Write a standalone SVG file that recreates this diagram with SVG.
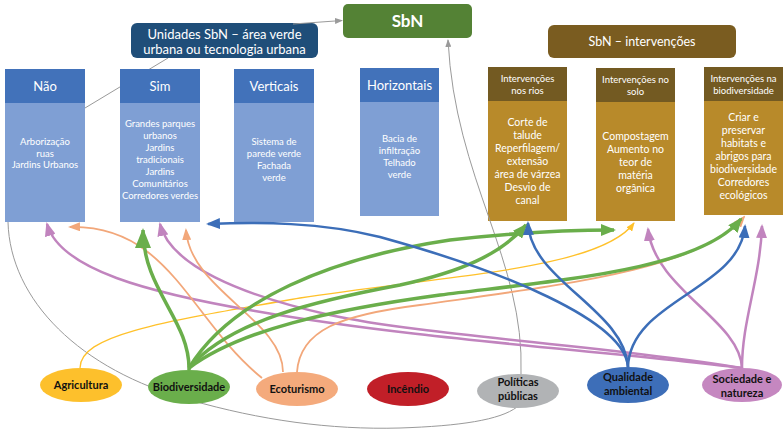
<svg xmlns="http://www.w3.org/2000/svg" width="783" height="430" viewBox="0 0 783 430">
<defs>
<style>
text{font-family:Lato,"Liberation Sans",sans-serif;text-anchor:middle}
.hd{fill:#fff;font-size:13px}
.bt{fill:#fff;font-size:9.5px}
.ih{fill:#fff;font-size:9.5px}
.ib{fill:#fff;font-size:10.5px}
.el{fill:#111;font-size:11px;font-weight:bold}
.bh{fill:#4272BA}
.bb{fill:#7F9FD4}
.gh{fill:#735A22}
.gb{fill:#B88A2A}
.c{fill:none}
.g{stroke:#6AAE4B;stroke-width:3.5}
.b{stroke:#3C6EB8;stroke-width:2.5}
.p{stroke:#C184BE;stroke-width:2.5}
.o{stroke:#F2A77A;stroke-width:1.8}
.y{stroke:#FFC12A;stroke-width:1.3}
.gr{stroke:#9A9A9A;stroke-width:1}
</style>
<marker id="mgB" markerUnits="userSpaceOnUse" markerWidth="20" markerHeight="16" refX="18" refY="8" orient="auto"><path d="M0,0 L20,8 L0,16 z" fill="#6AAE4B"/></marker>
<marker id="mg" markerUnits="userSpaceOnUse" markerWidth="15" markerHeight="12" refX="13" refY="6" orient="auto"><path d="M0,0 L15,6 L0,12 z" fill="#6AAE4B"/></marker>
<marker id="mb" markerUnits="userSpaceOnUse" markerWidth="14" markerHeight="11" refX="12" refY="5.5" orient="auto"><path d="M0,0 L14,5.5 L0,11 z" fill="#3C6EB8"/></marker>
<marker id="mp" markerUnits="userSpaceOnUse" markerWidth="14" markerHeight="11" refX="12" refY="5.5" orient="auto"><path d="M0,0 L14,5.5 L0,11 z" fill="#C184BE"/></marker>
<marker id="mo" markerUnits="userSpaceOnUse" markerWidth="12" markerHeight="9" refX="10" refY="4.5" orient="auto"><path d="M0,0 L12,4.5 L0,9 z" fill="#F2A77A"/></marker>
<marker id="my" markerUnits="userSpaceOnUse" markerWidth="9" markerHeight="7" refX="8" refY="3.5" orient="auto"><path d="M0,0 L9,3.5 L0,7 z" fill="#FFC12A"/></marker>
<marker id="mgr" markerUnits="userSpaceOnUse" markerWidth="8" markerHeight="6" refX="7" refY="3" orient="auto"><path d="M0,0 L8,3 L0,6 z" fill="#9A9A9A"/></marker>
</defs>
<rect width="783" height="430" fill="#fff"/>

<g id="connectors-back">
<path class="c gr" d="M85,108 L168,58"/>
<path class="c gr" d="M8,222 C10,300 80,370 190,400 C260,420 330,430 400,428 C460,426 500,420 517,407"/>
</g>

<g id="sbn"><rect x="343" y="4" width="129" height="34" rx="5" fill="#548235"/><text x="407.5" y="27" fill="#fff" font-size="17" font-weight="bold">SbN</text></g>
<g id="unidades"><rect x="131" y="23" width="187" height="35" rx="6" fill="#1F4E79"/><text class="hd" x="224.5" y="38.5">Unidades SbN – área verde</text><text class="hd" x="224.5" y="53.5">urbana ou tecnologia urbana</text></g>
<g id="intervencoes"><rect x="548" y="25" width="188" height="33" rx="6" fill="#7A5C20"/><text x="642" y="46" fill="#fff" font-size="12.5">SbN – intervenções</text></g>

<g id="nao"><rect class="bb" x="5" y="103" width="80" height="119"/><rect class="bh" x="5" y="69" width="80" height="34"/><text class="hd" x="45" y="91">Não</text>
<text class="bt" x="45" y="145">Arborização</text><text class="bt" x="45" y="157">ruas</text><text class="bt" x="45" y="168">Jardins Urbanos</text></g>
<g id="sim"><rect class="bb" x="120" y="103" width="80" height="119"/><rect class="bh" x="120" y="69" width="80" height="34"/><text class="hd" x="160" y="91">Sim</text>
<text class="bt" x="160" y="127">Grandes parques</text><text class="bt" x="160" y="139">urbanos</text><text class="bt" x="160" y="151">Jardins</text><text class="bt" x="160" y="163">tradicionais</text><text class="bt" x="160" y="175">Jardins</text><text class="bt" x="160" y="187">Comunitários</text><text class="bt" x="160" y="199">Corredores verdes</text></g>
<g id="verticais"><rect class="bb" x="234" y="103" width="80" height="119"/><rect class="bh" x="234" y="69" width="80" height="34"/><text class="hd" x="274" y="91">Verticais</text>
<text class="bt" x="274" y="145">Sistema de</text><text class="bt" x="274" y="157">parede verde</text><text class="bt" x="274" y="169">Fachada</text><text class="bt" x="274" y="181">verde</text></g>
<g id="horizontais"><rect class="bb" x="360" y="102" width="79" height="114"/><rect class="bh" x="360" y="68" width="79" height="34"/><text class="hd" x="399.5" y="90">Horizontais</text>
<text class="bt" x="399.5" y="142">Bacia de</text><text class="bt" x="399.5" y="154">infiltração</text><text class="bt" x="399.5" y="166">Telhado</text><text class="bt" x="399.5" y="178">verde</text></g>

<g id="rios"><rect class="gb" x="488" y="101" width="79" height="120"/><rect class="gh" x="488" y="67" width="79" height="34"/>
<text class="ih" x="527.5" y="82">Intervenções</text><text class="ih" x="527.5" y="93.5">nos rios</text>
<text class="ib" x="527.5" y="126">Corte de</text><text class="ib" x="527.5" y="139">talude</text><text class="ib" x="527.5" y="152">Reperfilagem/</text><text class="ib" x="527.5" y="165">extensão</text><text class="ib" x="527.5" y="178">área de várzea</text><text class="ib" x="527.5" y="191">Desvio de</text><text class="ib" x="527.5" y="204">canal</text></g>
<g id="solo"><rect class="gb" x="596" y="102" width="79" height="119"/><rect class="gh" x="596" y="68" width="79" height="34"/>
<text class="ih" x="635.5" y="83">Intervenções no</text><text class="ih" x="635.5" y="95">solo</text>
<text class="ib" x="635.5" y="140">Compostagem</text><text class="ib" x="635.5" y="153">Aumento no</text><text class="ib" x="635.5" y="166">teor de</text><text class="ib" x="635.5" y="179">matéria</text><text class="ib" x="635.5" y="192">orgânica</text></g>
<g id="biodiv-box"><rect class="gb" x="704" y="101" width="79" height="114"/><rect class="gh" x="704" y="67" width="79" height="34"/>
<text class="ih" x="743.5" y="82">Intervenções na</text><text class="ih" x="743.5" y="94">biodiversidade</text>
<text class="ib" x="743.5" y="121">Criar e</text><text class="ib" x="743.5" y="134">preservar</text><text class="ib" x="743.5" y="147">habitats e</text><text class="ib" x="743.5" y="160">abrigos para</text><text class="ib" x="743.5" y="173">biodiversidade</text><text class="ib" x="743.5" y="186">Corredores</text><text class="ib" x="743.5" y="199">ecológicos</text></g>

<g id="connectors">
<path class="c gr" d="M293,24 L342,20.5" marker-end="url(#mgr)"/>
<path class="c gr" d="M521,374 C525,260 455,180 448,40" marker-end="url(#mgr)"/>
<path class="c y" d="M80,368 C80,335 160,322 300,298 C440,276 600,270 634,223" marker-end="url(#my)"/>
<path class="c p" d="M742,368 C600,350 420,340 255,311 C150,293 60,270 47,224" marker-end="url(#mp)"/>
<path class="c p" d="M742,368 C600,345 420,335 330,315 C240,295 170,265 160,224" marker-end="url(#mp)"/>
<path class="c p" d="M742,368 C740,320 655,290 648,229" marker-end="url(#mp)"/>
<path class="c p" d="M742,368 C742,320 760,280 762,226" marker-end="url(#mp)"/>
<path class="c o" d="M262,378 C190,320 170,225 70,227" marker-end="url(#mo)"/>
<path class="c o" d="M283,372 C283,320 190,290 186,230" marker-end="url(#mo)"/>
<path class="c o" d="M297,372 C300,330 340,315 420,305 C560,285 700,270 744,217" marker-end="url(#mo)"/>
<path class="c g" d="M189,370 C190,320 143,290 143,230" marker-end="url(#mgB)"/>
<path class="c g" d="M189,368 C230,300 330,258 450,240 C520,232 570,230 614,230" marker-end="url(#mg)"/>
<path class="c g" d="M189,368 C230,320 320,300 400,285 C460,272 500,255 526,225" marker-end="url(#mg)"/>
<path class="c g" d="M189,368 C240,330 330,310 440,295 C560,280 700,270 741,219" marker-end="url(#mg)"/>
<path class="c b" d="M628,367 C625,320 500,270 380,237 C320,222 260,222 208,224" marker-end="url(#mb)"/>
<path class="c b" d="M628,367 C625,310 530,280 528,223" marker-end="url(#mb)"/>
<path class="c b" d="M628,367 C630,300 740,290 745,226" marker-end="url(#mb)"/>
</g>

<g id="agricultura"><ellipse cx="81" cy="385" rx="41" ry="17" fill="#FDC02C"/><text class="el" x="81" y="389">Agricultura</text></g>
<g id="biodiversidade"><ellipse cx="189" cy="387" rx="41" ry="17" fill="#6AAE4B"/><text class="el" x="189" y="391">Biodiversidade</text></g>
<g id="ecoturismo"><ellipse cx="297" cy="389" rx="41" ry="17" fill="#F4AA7C"/><text class="el" x="297" y="393">Ecoturismo</text></g>
<g id="incendio"><ellipse cx="408" cy="389" rx="41" ry="17" fill="#C11F28"/><text class="el" x="408" y="393">Incêndio</text></g>
<g id="politicas"><ellipse cx="518" cy="391" rx="41" ry="17" fill="#B1B3B5"/><text class="el" x="518" y="386">Políticas</text><text class="el" x="518" y="400">públicas</text></g>
<g id="qualidade"><ellipse cx="628" cy="385" rx="41" ry="18" fill="#3D6EB8"/><text class="el" x="628" y="381" fill="#0d1a33">Qualidade</text><text class="el" x="628" y="395" fill="#0d1a33">ambiental</text></g>
<g id="sociedade"><ellipse cx="742" cy="385" rx="40" ry="17" fill="#C587C0"/><text class="el" x="742" y="383">Sociedade e</text><text class="el" x="742" y="397">natureza</text></g>
</svg>
